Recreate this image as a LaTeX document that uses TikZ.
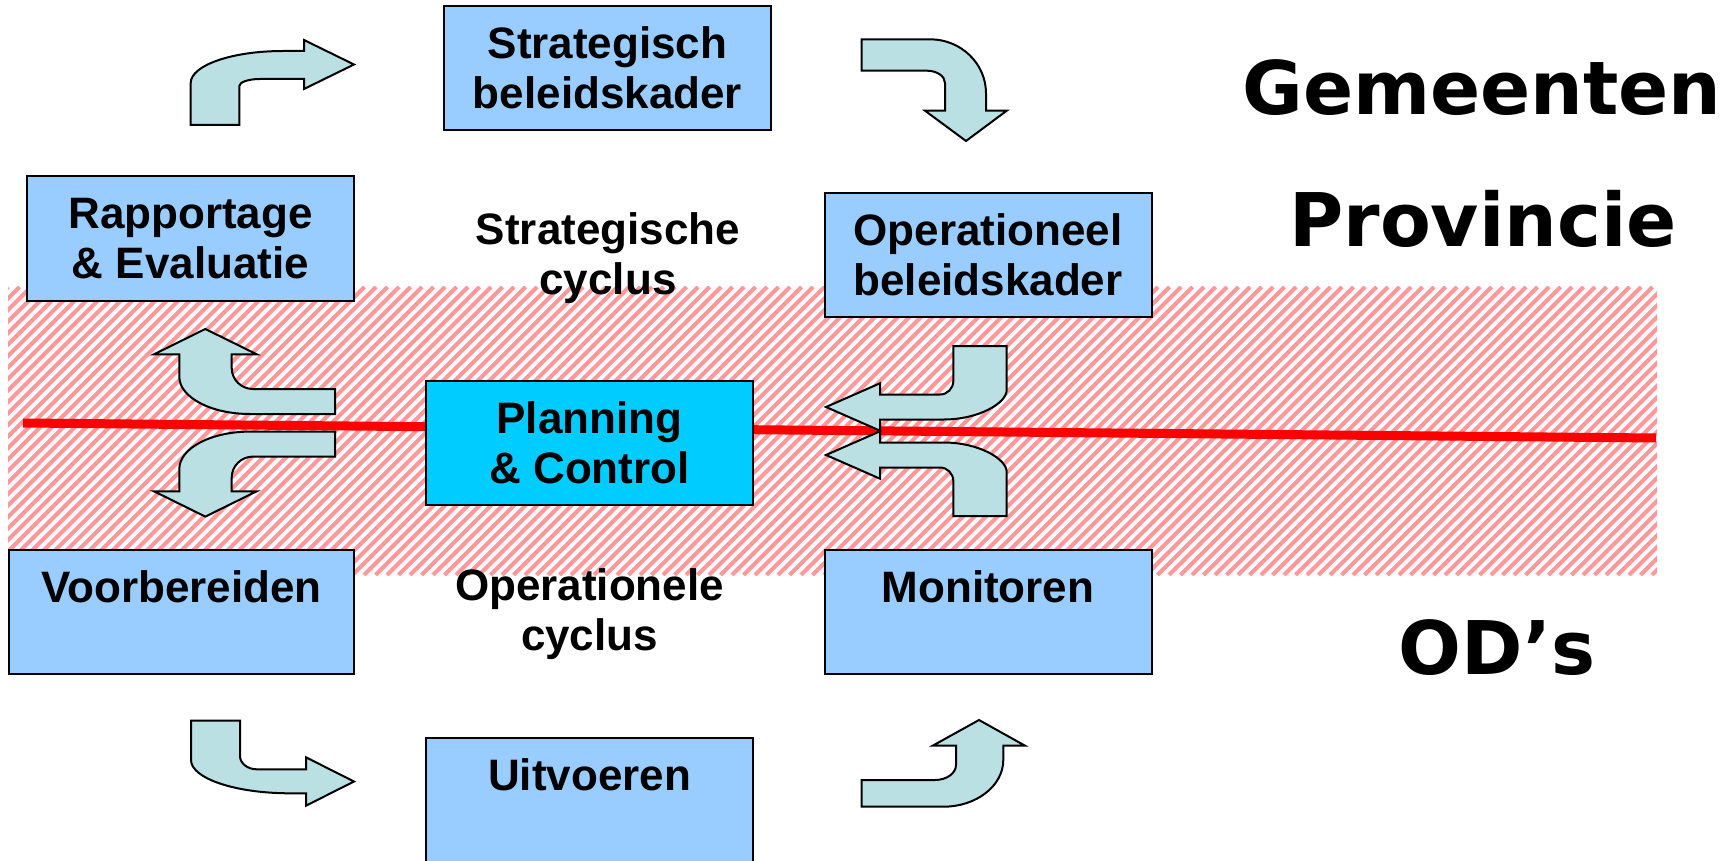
\documentclass[tikz,border=0pt]{standalone}
\usepackage{fontspec}
\setmainfont{Liberation Sans}
\newfontfamily\dejab{DejaVu Sans}
\definecolor{boxblue}{RGB}{153,204,255}
\definecolor{pcblue}{RGB}{0,204,255}
\definecolor{arrowfill}{RGB}{187,224,227}
\definecolor{hatchpink}{RGB}{255,153,153}
\definecolor{bandbg}{RGB}{250,251,255}
\tikzset{
  box/.style={draw=black, line width=2pt, fill=boxblue, minimum width=327pt, minimum height=124pt,
    inner sep=0pt, outer sep=0pt, align=center, font=\bfseries\fontsize{44}{50}\selectfont},
  lbl/.style={align=center, inner sep=0pt, font=\bfseries\fontsize{44}{50}\selectfont},
  big/.style={inner sep=0pt, anchor=base, font=\dejab\bfseries\fontsize{74}{80}\selectfont},
  arr/.style={draw=black, line width=2pt, fill=arrowfill, line join=miter},
  hatch/.style={draw=hatchpink, line width=4.2pt},
  redline/.style={draw=red, line width=9pt}
}
\begin{document}
\begin{tikzpicture}[x=1pt,y=-1pt]
\useasboundingbox (0,0) rectangle (1733,861);
\fill[white] (0,0) rectangle (1733,861);
% hatched band
\fill[bandbg] (8,287) rectangle (1657,575);
\begin{scope}
  \clip (8,287) rectangle (1657,575);
  \foreach \i in {0,...,170} { \draw[hatch] ({-280+11.5*\i},575) -- ({8+11.5*\i},287); }
\end{scope}
% red line
\coordinate (rla) at (23,423);
\coordinate (rlb) at (1656,438);
\draw[redline] (rla) -- (rlb);
% boxes
\node[box] (sb) at (607.5,68) {Strategisch\\beleidskader};
\node[box] (re) at (190.5,238.5) {Rapportage\\\& Evaluatie};
\node[box] (ob) at (988,255) {Operationeel\\beleidskader};
\node[box, fill=pcblue] (pc) at (589.5,443) {Planning\\\& Control};
\node[box, minimum width=345pt] (vb) at (181.5,612) {Voorbereiden\\\mbox{}};
\node[box] (mo) at (988,612) {Monitoren\\\mbox{}};
\node[box] (ui) at (589.5,800) {Uitvoeren\\\mbox{}};
% free labels
\node[lbl] (sc) at (608,258.5) {Strategische\\cyclus};
\node[lbl] (oc) at (589.5,614.5) {Operationele\\cyclus};
\node[big] (gm) at (1482,115) {Gemeenten};
\node[big] (pv) at (1483,247) {Provincie};
\node[big] (od) at (1497,674) {OD’s};
% bent arrows
\draw[arr] (190.7,125) -- (190.7,83) .. controls (190.7,65.3) and (232.1,51) .. (283,51) -- (304,51) -- (304,40) -- (354,64.5) -- (304,89) -- (304,79) -- (260,79) .. controls (248.6,79) and (239.3,82.1) .. (239.3,86) -- (239.3,125) -- cycle;
\draw[arr] (861.7,39.3) -- (930,39.3) .. controls (960.9,39.3) and (986,63.5) .. (986,93.3) -- (986,110.7) -- (1006.7,110.7) -- (966,141) -- (925,110.7) -- (945,110.7) -- (945,83) .. controls (945,76.2) and (936.9,70.7) .. (927,70.7) -- (861.7,70.7) -- cycle;
\draw[arr] (335,389) -- (253,389) .. controls (241.2,389) and (231.7,379.6) .. (231.7,368) -- (231.7,354.3) -- (256.7,354.3) -- (205.3,329) -- (154,354.3) -- (179.3,354.3) -- (179.3,376.7) .. controls (179.3,397.3) and (211,414) .. (250,414) -- (335,414) -- cycle;
\draw[arr] (335,456.6) -- (253,456.6) .. controls (241.2,456.6) and (231.7,466) .. (231.7,477.6) -- (231.7,491.3) -- (256.7,491.3) -- (205.3,516.6) -- (154,491.3) -- (179.3,491.3) -- (179.3,468.9) .. controls (179.3,448.3) and (211,431.6) .. (250,431.6) -- (335,431.6) -- cycle;
\draw[arr] (953.3,346) -- (953.3,381) .. controls (953.3,388.5) and (947.3,394.5) .. (940,394.5) -- (880,394.5) -- (880,383.3) -- (826,407) -- (880,430.7) -- (880,419.5) -- (943.7,419.5) .. controls (978.5,419.5) and (1006.7,403.2) .. (1006.7,390) -- (1006.7,346) -- cycle;
\draw[arr] (953.3,516) -- (953.3,481) .. controls (953.3,473.5) and (947.3,467.5) .. (940,467.5) -- (880,467.5) -- (880,478.7) -- (826,455) -- (880,431.3) -- (880,442.5) -- (943.7,442.5) .. controls (978.5,442.5) and (1006.7,458.8) .. (1006.7,472) -- (1006.7,516) -- cycle;
\draw[arr] (191,720.7) -- (191,760) .. controls (191,778.4) and (235.4,793.3) .. (290,793.3) -- (306,793.3) -- (306,805.7) -- (354,781.5) -- (306,757.3) -- (306,769.3) -- (256.7,769.3) .. controls (247.5,769.3) and (240,763.3) .. (240,756) -- (240,720.7) -- cycle;
\draw[arr] (861.7,780) -- (935,780) .. controls (946.6,780) and (956,773.3) .. (956,765) -- (956,745.7) -- (932.7,745.7) -- (979,720) -- (1025,745.7) -- (1003.3,745.7) -- (1003.3,760) .. controls (1003.3,785.8) and (976.4,806.7) .. (943.3,806.7) -- (861.7,806.7) -- cycle;
\end{tikzpicture}
\end{document}
